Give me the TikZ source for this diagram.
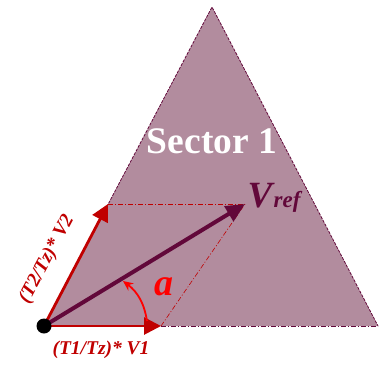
\documentclass[tikz,border=0pt]{standalone}
\usepackage{fontspec}
\setmainfont{Liberation Serif}
\usetikzlibrary{arrows.meta,calc}
\definecolor{mauve}{RGB}{178,140,158}
\definecolor{dpurple}{RGB}{98,8,58}
\definecolor{dred}{RGB}{192,0,0}
\definecolor{bred}{RGB}{255,0,0}
\tikzset{
  outline/.style={draw=dpurple, line width=0.8pt, dash pattern=on 3pt off 1.2pt},
  baseline/.style={draw=dpurple, line width=0.8pt, dash pattern=on 5pt off 2pt on 1pt off 2pt},
  helper/.style={draw=dred, line width=0.6pt, dash pattern=on 5pt off 2pt on 1pt off 2pt},
  vec/.style={draw=dred, line width=2.8pt, -{Triangle[length=17pt,width=17pt]}},
  refvec/.style={draw=dpurple, line width=4pt, -{Triangle[length=19pt,width=17pt]}},
  lbl/.style={text=dred, font=\bfseries\itshape\fontsize{19.5}{22}\selectfont, inner sep=0pt},
}
\begin{document}
\begin{tikzpicture}[x=1pt,y=-1pt]
\useasboundingbox (0,0) rectangle (379,365);
\coordinate (O) at (44,326);
\coordinate (A) at (212,7);
\coordinate (R) at (378,326);
\coordinate (V1) at (161,326);
\coordinate (V2) at (108,204);
\coordinate (Vr) at (245,204);
\coordinate (a1) at (147,321);
\coordinate (a2) at (123,281);
% sector triangle
\fill[mauve] (O) -- (A) -- (R) -- cycle;
\draw[outline] (O) -- (A) -- (R);
\draw[baseline] (V1) -- (R);
% helper lines
\draw[helper] (V2) -- (Vr);
\draw[helper] (V1) -- (Vr);
% vectors
\draw[vec] (O) -- (V1);
\draw[vec] (O) -- (V2);
\draw[refvec] (O) -- (Vr);
% angle arc
\draw[draw=bred, line width=1.8pt, -{Stealth[length=10pt,width=9pt]}] (a1) to[bend right=22] (a2);
\fill[black] (O) circle[radius=7.5];
% labels
\node[text=white, font=\bfseries\fontsize{37.5}{40}\selectfont, inner sep=0pt] (sec) at (212,141) {Sector 1};
\node[text=dpurple, font=\bfseries\itshape\fontsize{37}{40}\selectfont, inner sep=0pt] (vv) at (260,196) {V};
\node[text=dpurple, font=\bfseries\itshape\fontsize{23}{24}\selectfont, inner sep=0pt] (vref) at (287,202) {ref};
\node[text=bred, font=\bfseries\itshape\fontsize{38}{40}\selectfont, inner sep=0pt] (ang) at (164,287) {a};
\node[lbl] (l1) at (101,350) {(T1/Tz)* V1};
\node[lbl, rotate=62] (l2) at (47,259) {(T2/Tz)* V2};
\end{tikzpicture}
\end{document}
